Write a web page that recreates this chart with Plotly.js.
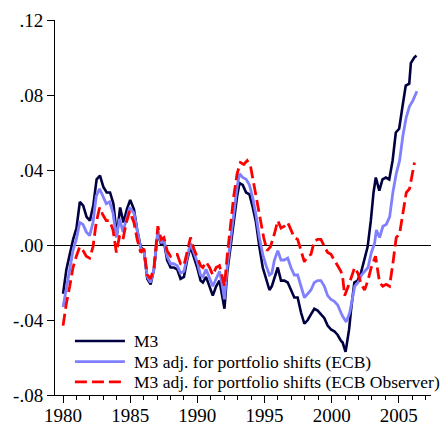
<!DOCTYPE html>
<html><head><meta charset="utf-8">
<script src="https://cdn.plot.ly/plotly-3.0.1.min.js"></script>
<style>html,body{margin:0;padding:0;background:#fff}#chart{width:446px;height:425px}</style>
</head><body><div id="chart"></div>
<script>
const seriesNames = ["M3", "M3 adj. for portfolio shifts (ECB)", "M3 adj. for portfolio shifts (ECB Observer)"];
const seriesColors = ["#000040", "#8080ff", "#ff0000"];

const m3Years = [1980.00,1980.25,1980.50,1980.75,1981.00,1981.25,1981.50,1981.75,1982.00,1982.25,1982.50,1982.75,1983.00,1983.25,1983.50,1983.75,1984.00,1984.25,1984.50,1984.75,1985.00,1985.28,1985.52,1985.78,1986.02,1986.27,1986.52,1986.77,1987.06,1987.31,1987.51,1987.75,1988.01,1988.25,1988.50,1988.75,1989.00,1989.24,1989.49,1989.74,1989.99,1990.24,1990.41,1990.65,1990.91,1991.15,1991.40,1991.65,1991.82,1992.02,1992.22,1992.47,1992.71,1992.96,1993.14,1993.38,1993.63,1993.88,1994.13,1994.37,1994.62,1994.87,1995.12,1995.37,1995.55,1995.74,1995.99,1996.23,1996.48,1996.73,1996.97,1997.22,1997.47,1997.72,1997.97,1998.22,1998.46,1998.71,1998.96,1999.20,1999.46,1999.70,1999.95,2000.20,2000.45,2000.69,2000.82,2001.04,2001.30,2001.44,2001.69,2001.93,2002.18,2002.43,2002.68,2002.92,2003.12,2003.29,2003.55,2003.79,2004.04,2004.29,2004.54,2004.78,2005.03,2005.28,2005.52,2005.78,2005.90,2006.15,2006.32];
const m3Values = [-0.026,-0.013,-0.005,0.003,0.009,0.023,0.021,0.015,0.013,0.021,0.035,0.037,0.031,0.028,0.028,0.022,0.005,0.020,0.012,0.019,0.024,0.019,0.008,-0.001,-0.003,-0.018,-0.021,-0.013,0.007,0.000,0.002,-0.008,-0.012,-0.012,-0.013,-0.018,-0.017,-0.008,-0.001,-0.006,-0.012,-0.019,-0.020,-0.017,-0.022,-0.027,-0.022,-0.019,-0.026,-0.034,-0.015,-0.001,0.015,0.026,0.033,0.032,0.028,0.027,0.020,0.012,-0.001,-0.012,-0.018,-0.024,-0.022,-0.018,-0.012,-0.019,-0.019,-0.020,-0.024,-0.028,-0.028,-0.036,-0.042,-0.040,-0.037,-0.034,-0.035,-0.037,-0.039,-0.043,-0.045,-0.046,-0.048,-0.051,-0.052,-0.057,-0.045,-0.035,-0.020,-0.019,-0.015,-0.008,-0.001,0.013,0.028,0.036,0.029,0.035,0.036,0.035,0.045,0.060,0.062,0.074,0.085,0.086,0.097,0.100,0.101];

const ecbYears = [1980.00,1980.25,1980.50,1980.74,1980.99,1981.24,1981.49,1981.73,1981.98,1982.23,1982.47,1982.72,1982.97,1983.22,1983.47,1983.72,1983.97,1984.21,1984.46,1984.71,1984.96,1985.28,1985.52,1985.78,1986.02,1986.27,1986.52,1986.77,1987.06,1987.31,1987.51,1987.75,1988.01,1988.25,1988.50,1988.75,1989.00,1989.24,1989.49,1989.74,1989.99,1990.24,1990.41,1990.65,1990.91,1991.15,1991.40,1991.65,1991.82,1992.02,1992.22,1992.47,1992.71,1992.96,1993.14,1993.38,1993.63,1993.88,1994.13,1994.37,1994.62,1994.87,1995.12,1995.37,1995.55,1995.74,1995.99,1996.23,1996.48,1996.73,1996.97,1997.22,1997.47,1997.72,1997.97,1998.22,1998.46,1998.71,1998.96,1999.20,1999.46,1999.70,1999.95,2000.20,2000.45,2000.69,2000.82,2001.09,2001.35,2001.72,2001.97,2002.22,2002.47,2002.71,2002.96,2003.20,2003.33,2003.57,2003.82,2004.07,2004.32,2004.56,2004.81,2005.06,2005.30,2005.55,2005.80,2006.05,2006.35];
const ecbValues = [-0.033,-0.022,-0.013,-0.003,0.003,0.012,0.011,0.007,0.005,0.012,0.026,0.030,0.026,0.022,0.023,0.017,0.004,0.014,0.007,0.014,0.020,0.017,0.007,-0.002,-0.003,-0.017,-0.020,-0.013,0.008,0.001,0.003,-0.006,-0.010,-0.010,-0.011,-0.015,-0.014,-0.006,0.001,-0.004,-0.009,-0.016,-0.017,-0.013,-0.018,-0.022,-0.018,-0.014,-0.020,-0.029,-0.012,0.003,0.019,0.031,0.038,0.036,0.035,0.032,0.025,0.016,0.004,-0.005,-0.011,-0.016,-0.015,-0.008,-0.003,-0.008,-0.008,-0.007,-0.012,-0.016,-0.016,-0.022,-0.028,-0.026,-0.024,-0.020,-0.019,-0.019,-0.022,-0.027,-0.029,-0.030,-0.032,-0.036,-0.038,-0.041,-0.036,-0.022,-0.020,-0.016,-0.014,-0.012,-0.004,0.001,0.008,0.004,0.010,0.011,0.015,0.028,0.038,0.045,0.058,0.068,0.074,0.077,0.082];

const obsYears = [1980.00,1980.25,1980.50,1980.74,1980.99,1981.24,1981.49,1981.73,1981.98,1982.23,1982.47,1982.72,1982.97,1983.22,1983.47,1983.72,1983.97,1984.21,1984.46,1984.71,1984.96,1985.28,1985.52,1985.78,1986.02,1986.27,1986.52,1986.77,1987.06,1987.31,1987.51,1987.75,1988.01,1988.25,1988.50,1988.75,1989.00,1989.24,1989.49,1989.74,1989.99,1990.24,1990.41,1990.65,1990.91,1991.15,1991.40,1991.65,1991.82,1992.02,1992.22,1992.47,1992.71,1992.96,1993.21,1993.46,1993.71,1993.96,1994.20,1994.45,1994.70,1994.94,1995.19,1995.44,1995.74,1995.99,1996.23,1996.48,1996.73,1996.97,1997.22,1997.47,1997.72,1997.97,1998.22,1998.46,1998.71,1998.96,1999.20,1999.46,1999.70,1999.95,2000.20,2000.45,2000.69,2000.82,2000.97,2001.34,2001.71,2001.95,2002.21,2002.45,2002.70,2002.95,2003.27,2003.57,2003.81,2004.06,2004.31,2004.56,2004.81,2005.06,2005.30,2005.56,2005.80,2006.05,2006.17];
const obsValues = [-0.043,-0.031,-0.022,-0.012,-0.006,-0.001,-0.003,-0.006,-0.007,-0.001,0.012,0.020,0.016,0.013,0.013,0.008,-0.004,0.005,0.003,0.012,0.018,0.012,0.003,-0.004,-0.002,-0.016,-0.018,-0.012,0.010,0.003,0.004,-0.003,-0.006,-0.005,-0.005,-0.010,-0.011,-0.003,0.004,-0.002,-0.007,-0.011,-0.012,-0.009,-0.012,-0.016,-0.012,-0.011,-0.016,-0.022,-0.006,0.010,0.026,0.038,0.044,0.043,0.045,0.042,0.033,0.023,0.013,0.004,-0.003,-0.001,0.006,0.013,0.009,0.010,0.012,0.008,0.004,0.003,-0.003,-0.009,-0.006,-0.005,0.002,0.003,0.003,-0.001,-0.004,-0.005,-0.008,-0.011,-0.014,-0.017,-0.027,-0.020,-0.012,-0.015,-0.021,-0.024,-0.019,-0.012,-0.006,-0.020,-0.022,-0.021,-0.022,-0.010,0.004,0.006,0.017,0.028,0.030,0.041,0.044];

const yTickVals = [-0.08, -0.04, 0.00, 0.04, 0.08, 0.12];
const yTickText = ["-.08", "-.04", ".00", ".04", ".08", ".12"];
const xTickVals = [1980, 1985, 1990, 1995, 2000, 2005];
const xTickText = ["1980", "1985", "1990", "1995", "2000", "2005"];

const serif = "Liberation Serif, Times New Roman, serif";
const dashes = ["solid", "solid", "12px,5px"];
const widths = [2.6, 2.8, 2.8];
const xs = [m3Years, ecbYears, obsYears];
const ys = [m3Values, ecbValues, obsValues];
const traces = seriesNames.map((n, i) => ({
  x: xs[i], y: ys[i], name: n, type: "scatter", mode: "lines", showlegend: false,
  line: {color: seriesColors[i], width: widths[i], dash: dashes[i]}
}));

// legend drawn in the lower-left corner of the plot area (paper coordinates)
const legendRowsY = [0.144, 0.089, 0.035];
const legendShapes = seriesNames.map((n, i) => ({
  type: "line", xref: "paper", yref: "paper", x0: 0.053, x1: 0.186,
  y0: legendRowsY[i], y1: legendRowsY[i],
  line: {color: seriesColors[i], width: widths[i], dash: dashes[i]}
}));
const legendTexts = seriesNames.map((n, i) => ({
  xref: "paper", yref: "paper", x: 0.205, y: legendRowsY[i], xanchor: "left", yanchor: "middle",
  text: n, showarrow: false, font: {family: serif, size: 17.5, color: "#000"}
}));

const layout = {
  width: 446, height: 425,
  margin: {l: 55, r: 15, t: 20, b: 30},
  paper_bgcolor: "#fff", plot_bgcolor: "#fff",
  font: {family: serif, color: "#000", size: 19},
  showlegend: false,
  shapes: legendShapes,
  annotations: legendTexts,
  xaxis: {range: [1979.4, 2007.4], showgrid: false, zeroline: false, showline: true,
          linecolor: "#000", linewidth: 1, ticks: "outside", ticklen: 7, tickcolor: "#000",
          tickvals: xTickVals, ticktext: xTickText, ticklabelstandoff: -4,
          minor: {dtick: 1, ticks: "outside", ticklen: 4, tickcolor: "#000", showgrid: false},
          tickfont: {family: serif, size: 19, color: "#000"}},
  yaxis: {range: [-0.08, 0.12], showgrid: false, zeroline: true, zerolinecolor: "#000",
          zerolinewidth: 1, showline: true, linecolor: "#000", linewidth: 1,
          ticks: "outside", ticklen: 7, tickcolor: "#000",
          tickvals: yTickVals, ticktext: yTickText,
          tickfont: {family: serif, size: 19, color: "#000"}}
};
Plotly.newPlot("chart", traces, layout, {displayModeBar: false, staticPlot: true});
</script></body></html>
